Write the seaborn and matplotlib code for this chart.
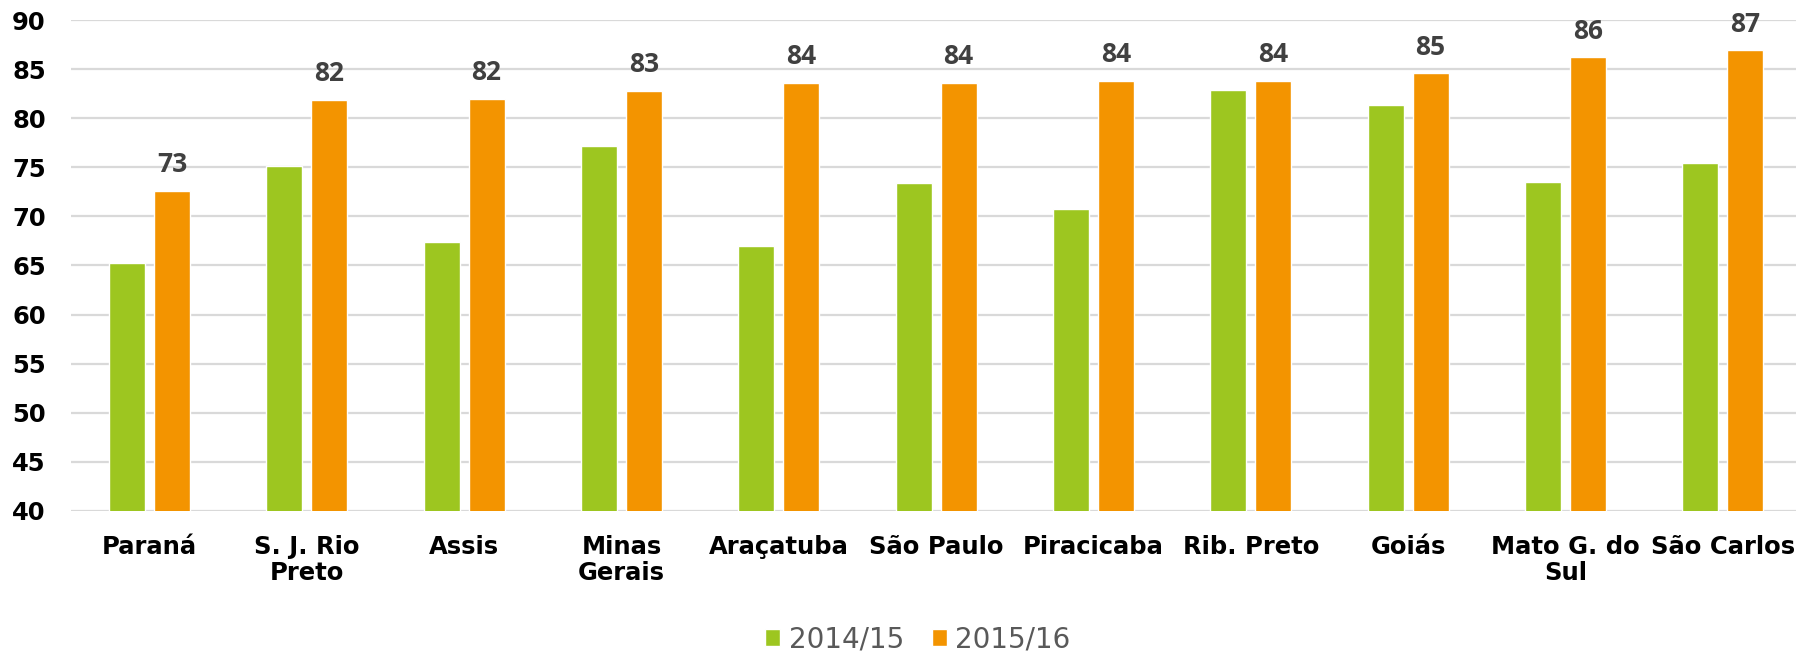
import pandas as pd
import seaborn as sns
import matplotlib.pyplot as plt

# dados
regioes = ["Paraná", "S. J. Rio Preto", "Assis", "Minas Gerais", "Araçatuba",
           "São Paulo", "Piracicaba", "Rib. Preto", "Goiás", "Mato G. do Sul",
           "São Carlos"]
rotulos = ["Paraná", "S. J. Rio\nPreto", "Assis", "Minas\nGerais", "Araçatuba",
           "São Paulo", "Piracicaba", "Rib. Preto", "Goiás", "Mato G. do\nSul",
           "São Carlos"]
safra_2014_15 = [65.3, 75.1, 67.4, 77.2, 67.0, 73.4, 70.8, 82.9, 81.3, 73.5, 75.4]
safra_2015_16 = [72.6, 81.9, 82.0, 82.8, 83.6, 83.6, 83.8, 83.8, 84.6, 86.2, 86.9]
safras = ["2014/15", "2015/16"]
cores = ["#9DC620", "#F39400"]

df = pd.DataFrame({"Região": regioes, "2014/15": safra_2014_15, "2015/16": safra_2015_16})
df = df.melt(id_vars="Região", var_name="Safra", value_name="Valor")

sns.set_theme(style="white")
plt.rcParams['font.family'] = ['DejaVu Sans']
plt.rcParams['text.color'] = 'black'
plt.rcParams['xtick.color'] = 'black'
plt.rcParams['ytick.color'] = 'black'

fig = plt.figure(figsize=(17.96, 6.54), dpi=100)
ax = fig.add_axes([0.0394, 0.2187, 0.9606, 0.7507])

sns.barplot(data=df, x="Região", y="Valor", hue="Safra", hue_order=safras,
            palette=cores, width=0.572, gap=0.2, saturation=1, ax=ax)

# rótulos só na safra 2015/16
ax.bar_label(ax.containers[1], fmt="%.0f", padding=9, fontsize=19,
             fontweight="bold", color="#404040", family="Open Sans")

ax.set_ylim(40, 90)
ax.set_xlim(-0.5, 10.465)
ax.set_yticks(range(40, 91, 5))
ax.yaxis.grid(True, color="#d9d9d9", linewidth=1.6)
ax.set_axisbelow(True)
for s in ax.spines.values():
    s.set_visible(False)

ax.set_xticks(range(len(rotulos)))
ax.set_xticklabels(rotulos, fontsize=17.5, fontweight="bold", linespacing=1.15)
ax.tick_params(axis="x", length=0, pad=17)
ax.tick_params(axis="y", length=0, pad=18, labelsize=17.5)
for t in ax.get_yticklabels():
    t.set_fontweight("bold")
ax.set_xlabel("")
ax.set_ylabel("")

handles, labels = ax.get_legend_handles_labels()
ax.legend_.remove()
fig.legend(handles, labels, loc="center", bbox_to_anchor=(0.511, 0.022), ncol=2,
           frameon=False, fontsize=20, handlelength=0.55, handleheight=0.55,
           handletextpad=0.3, columnspacing=1.0, labelcolor="#595959")

plt.savefig("out.png", dpi=100)
